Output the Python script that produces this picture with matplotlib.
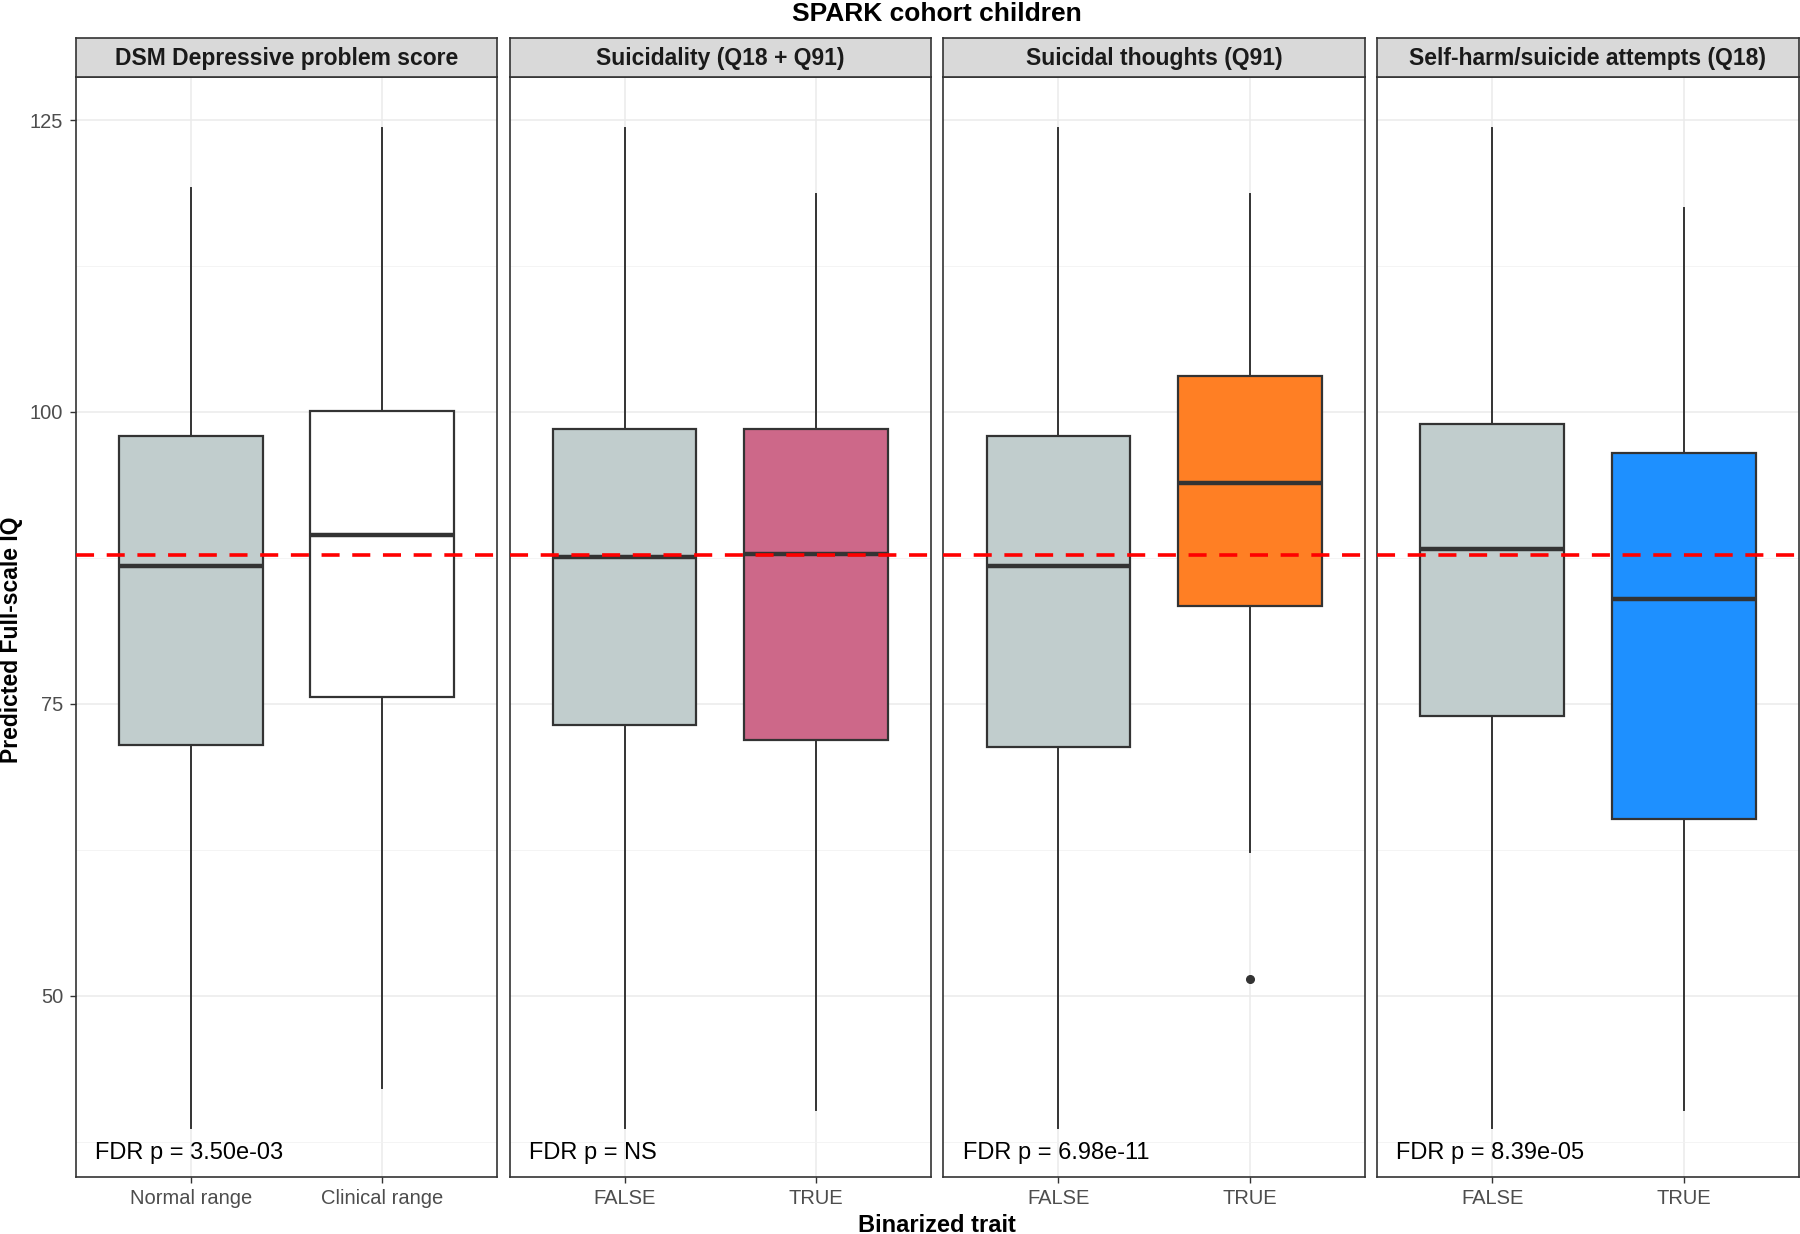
import matplotlib
matplotlib.use("Agg")
import matplotlib.pyplot as plt
from matplotlib.patches import Rectangle

plt.rcParams['font.family'] = ['Liberation Sans', 'DejaVu Sans']

# facet titles, category labels and p-value annotations
panels = ["DSM Depressive problem score", "Suicidality (Q18 + Q91)",
          "Suicidal thoughts (Q91)", "Self-harm/suicide attempts (Q18)"]
categories = [["Normal range", "Clinical range"], ["FALSE", "TRUE"],
              ["FALSE", "TRUE"], ["FALSE", "TRUE"]]
fdr_labels = ["FDR p = 3.50e-03", "FDR p = NS", "FDR p = 6.98e-11", "FDR p = 8.39e-05"]

# box statistics: [low whisker, q1, median, q3, high whisker]
whislo = [[38.7, 42.1], [38.7, 40.2], [38.7, 62.3], [38.7, 40.2]]
q1 = [[71.5, 75.6], [73.2, 71.9], [71.3, 83.4], [74.0, 65.1]]
med = [[86.8, 89.5], [87.6, 87.8], [86.8, 93.9], [88.3, 84.0]]
q3 = [[97.9, 100.1], [98.5, 98.5], [97.9, 103.1], [99.0, 96.5]]
whishi = [[119.2, 124.3], [124.3, 118.7], [124.3, 118.7], [124.3, 117.5]]
outliers = [[[], []], [[], []], [[], [51.4]], [[], []]]
fills = [["#C1CDCD", "#FFFFFF"], ["#C1CDCD", "#CD6889"],
         ["#C1CDCD", "#FF7F24"], ["#C1CDCD", "#1E90FF"]]
overall_median = 87.75

W, H = 1800, 1234
fig = plt.figure(figsize=(W / 100, H / 100), dpi=100)

left0, pw, gap = 75.8 / W, 421.5 / W, 12.3 / W
bottom, top = 1 - 1176.7 / H, 1 - 76.9 / H
strip_h = 39 / H

for i in range(4):
    x0 = left0 + i * (pw + gap)
    ax = fig.add_axes([x0, bottom, pw, top - bottom])
    stats = []
    for j in range(2):
        stats.append(dict(whislo=whislo[i][j], q1=q1[i][j], med=med[i][j],
                          q3=q3[i][j], whishi=whishi[i][j], fliers=outliers[i][j]))
    bp = ax.bxp(stats, positions=[1, 2], widths=0.75, patch_artist=True,
                showcaps=False, zorder=3,
                boxprops=dict(edgecolor="#333333", linewidth=1.6),
                whiskerprops=dict(color="#333333", linewidth=1.4),
                medianprops=dict(color="#333333", linewidth=3.2),
                flierprops=dict(marker="o", markerfacecolor="#333333",
                                markeredgecolor="#333333", markersize=5.5))
    for patch, c in zip(bp["boxes"], fills[i]):
        patch.set_facecolor(c)
    ax.axhline(overall_median, color="#FF0000", linestyle=(0, (5, 3.5)),
               linewidth=2.6, zorder=4)
    ax.text(0.50, 36.5, fdr_labels[i], fontsize=17, ha="left", va="center", zorder=5)

    ax.set_xlim(0.4, 2.6)
    ax.set_ylim(34.5, 128.7)
    ax.set_xticks([1, 2])
    ax.set_xticklabels(categories[i])
    ax.set_yticks([50, 75, 100, 125])
    ax.set_yticks([37.5, 62.5, 87.5, 112.5], minor=True)
    ax.grid(True, which="major", color="#EBEBEB", linewidth=1.1, zorder=0)
    ax.grid(True, which="minor", axis="y", color="#F2F2F2", linewidth=0.6, zorder=0)
    ax.set_axisbelow(True)
    ax.tick_params(axis="both", which="major", labelsize=14.5, labelcolor="#4D4D4D",
                   color="#333333", length=4, width=1, pad=5)
    ax.tick_params(axis="y", which="minor", length=0)
    if i > 0:
        ax.tick_params(axis="y", which="major", labelleft=False, length=0)
    for s in ax.spines.values():
        s.set_color("#333333")
        s.set_linewidth(1.2)

    # facet strip
    sax = fig.add_axes([x0, top, pw, strip_h])
    sax.add_patch(Rectangle((0, 0), 1, 1, transform=sax.transAxes,
                            facecolor="#D9D9D9", edgecolor="none"))
    sax.set_xticks([])
    sax.set_yticks([])
    for s in sax.spines.values():
        s.set_color("#333333")
        s.set_linewidth(1.2)
    sax.text(0.5, 0.48, panels[i], fontsize=16.5, fontweight="bold",
             color="#1A1A1A", ha="center", va="center", transform=sax.transAxes)

fig.text(left0 + (4 * pw + 3 * gap) / 2, 1 - 14 / H, "SPARK cohort children",
         fontsize=19, fontweight="bold", ha="center", va="center")
fig.text(left0 + (4 * pw + 3 * gap) / 2, 1 - 1226 / H, "Binarized trait",
         fontsize=17, fontweight="bold", ha="center", va="center")
fig.text(12 / W, 1 - 640 / H, "Predicted Full-scale IQ",
         fontsize=16.5, fontweight="bold", ha="center", va="center", rotation=90)

fig.savefig("out.png", dpi=100)
